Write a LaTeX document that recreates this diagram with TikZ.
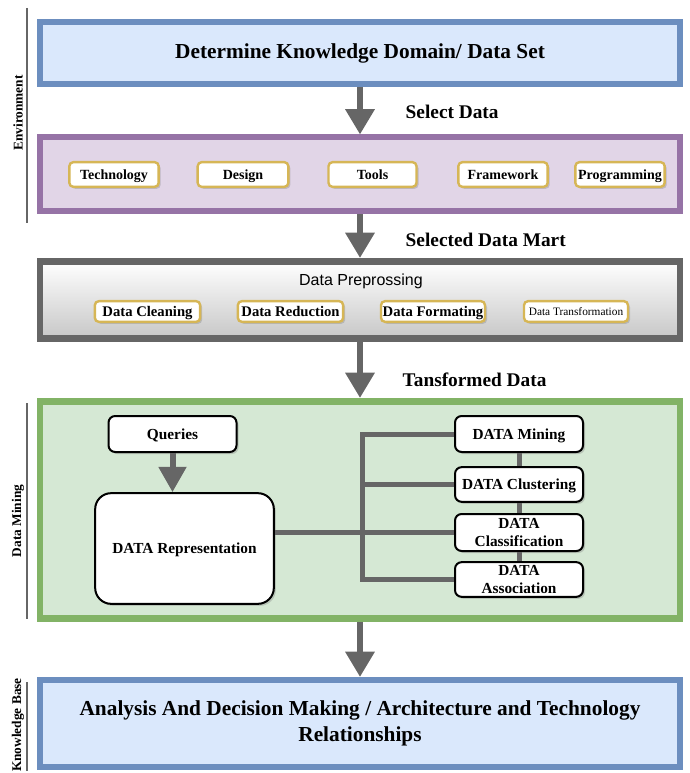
\documentclass[tikz,border=0pt]{standalone}
\usepackage{fontspec}
\setmainfont{Liberation Serif}
\newfontfamily\arialfont{Liberation Sans}
\usetikzlibrary{arrows.meta,shadows}

\definecolor{blueline}{HTML}{6C8EBF}
\definecolor{bluefill}{HTML}{DAE8FC}
\definecolor{purpleline}{HTML}{9673A6}
\definecolor{purplefill}{HTML}{E1D5E7}
\definecolor{greenline}{HTML}{82B366}
\definecolor{greenfill}{HTML}{D5E8D4}
\definecolor{goldline}{HTML}{D6B656}
\definecolor{darkgray}{HTML}{666666}

\tikzset{
  bigbox/.style={draw, line width=4.5pt, minimum width=480pt, inner sep=0pt, align=center,
    drop shadow={shadow xshift=1.2pt, shadow yshift=-1.2pt, opacity=0.25}},
  itembox/.style={draw=goldline, fill=white, line width=1.8pt, rounded corners=3pt, inner sep=0pt,
    text height=8pt, text depth=1pt, font=\bfseries\fontsize{10.5}{12}\selectfont,
    drop shadow={shadow xshift=1.5pt, shadow yshift=-1.5pt, opacity=0.35}},
  dmbox/.style={draw=black, fill=white, line width=1.5pt, rounded corners=5pt, inner sep=0pt,
    minimum width=96pt, align=center, font=\bfseries\fontsize{11.5}{13}\selectfont,
    drop shadow={shadow xshift=1.5pt, shadow yshift=-1.5pt, opacity=0.35}},
  oneline/.style={text height=8.5pt, text depth=1pt},
  flow/.style={draw=darkgray, line width=5pt, -{Triangle[width=21pt,length=19pt]}},
  link/.style={draw=darkgray, line width=3.75pt},
  arrowlabel/.style={anchor=west, font=\bfseries\fontsize{14.5}{17}\selectfont},
  sidelabel/.style={rotate=90, font=\bfseries\fontsize{10}{12}\selectfont},
  sideline/.style={draw=darkgray, line width=1pt},
}

\begin{document}
\begin{tikzpicture}[x=0.75pt, y=-0.75pt]
  \useasboundingbox (0,0) rectangle (689,773);

  % side labels
  \node[sidelabel] (envlabel) at (18,113) {Environment};
  \node[sidelabel] (minelabel) at (18,521) {Data Mining};
  \node[sidelabel] (kblabel) at (18,725) {Knowledge Base};
  \coordinate (env1) at (27,8);
  \coordinate (env2) at (27,223);
  \coordinate (mine1) at (27,403);
  \coordinate (mine2) at (27,619);
  \coordinate (kb1) at (27,682);
  \coordinate (kb2) at (27,771);
  \draw[sideline] (env1) -- (env2);
  \draw[sideline] (mine1) -- (mine2);
  \draw[sideline] (kb1) -- (kb2);

  % main boxes
  \node[bigbox, draw=blueline, fill=bluefill, minimum height=46.5pt,
    font=\bfseries\fontsize{16}{19}\selectfont] (domain) at (360,53) {Determine Knowledge Domain/ Data Set};
  \node[bigbox, draw=purpleline, fill=purplefill, minimum height=55.5pt] (select) at (360,174.5) {};
  \node[bigbox, draw=darkgray, line width=5.2pt, top color=white, bottom color=black!22,
    minimum height=57.75pt] (prep) at (360,300) {};
  \node[bigbox, draw=greenline, fill=greenfill, line width=5.2pt, minimum height=162.75pt] (mining) at (360,510) {};
  \node[bigbox, draw=blueline, fill=bluefill, minimum height=65.25pt,
    font=\bfseries\fontsize{16}{19.5}\selectfont] (analysis) at (360,723.5)
    {Analysis And Decision Making / Architecture and Technology\\Relationships};

  % arrows between stages
  \draw[flow] (domain) -- (select);
  \draw[flow] (select) -- (prep);
  \draw[flow] (prep) -- (mining);
  \draw[flow] (mining) -- (analysis);
  \node[arrowlabel] (lab1) at (401,112) {Select Data};
  \node[arrowlabel] (lab2) at (401,240) {Selected Data Mart};
  \node[arrowlabel] (lab3) at (398,380) {Tansformed Data};

  % selected data
  \node[itembox, minimum width=67pt, minimum height=18.5pt] (tech) at (114,174.5) {Technology};
  \node[itembox, minimum width=68pt, minimum height=18.5pt] (design) at (243,174.5) {Design};
  \node[itembox, minimum width=66pt, minimum height=18.5pt] (tools) at (372.5,174.5) {Tools};
  \node[itembox, minimum width=67pt, minimum height=18.5pt] (frame) at (503,174.5) {Framework};
  \node[itembox, minimum width=67pt, minimum height=18.5pt] (prog) at (620,174.5) {Programming};

  % preprocessing
  \node[font=\arialfont\fontsize{12}{14}\selectfont] (preptitle) at (361,281) {Data Preprossing};
  \node[itembox, minimum width=79pt, minimum height=15.5pt, font=\bfseries\fontsize{11}{13}\selectfont] (clean) at (147.5,311.5) {Data Cleaning};
  \node[itembox, minimum width=79pt, minimum height=15.5pt, font=\bfseries\fontsize{11}{13}\selectfont] (reduce) at (290.5,311.5) {Data Reduction};
  \node[itembox, minimum width=78pt, minimum height=15.5pt, font=\bfseries\fontsize{11}{13}\selectfont] (format) at (433,311.5) {Data Formating};
  \node[itembox, minimum width=78pt, minimum height=15.5pt, text height=6pt, text depth=0.5pt,
    font=\fontsize{8.5}{10}\selectfont] (transform) at (576,311.5) {Data Transformation};

  % data mining
  \node[dmbox, oneline, minimum height=27pt] (queries) at (172.5,434) {Queries};
  \node[dmbox, oneline, minimum width=134pt, minimum height=83pt, rounded corners=12pt] (repr) at (184.5,548.5) {DATA Representation};
  \node[dmbox, oneline, minimum height=27pt] (dmine) at (519,434) {DATA Mining};
  \node[dmbox, oneline, minimum height=26pt] (dclust) at (519,484.5) {DATA Clustering};
  \node[dmbox, minimum height=27.75pt] (dclass) at (519,532.5) {DATA\\Classification};
  \node[dmbox, minimum height=26pt] (dassoc) at (519,579.5) {DATA\\Association};
  \coordinate (bus) at (362,0);

  \draw[flow, line width=4.5pt, -{Triangle[width=20pt,length=19pt]}] (queries) -- (queries |- repr.north);
  \draw[link] (dmine.west) -- (dmine.west -| bus) -- (dassoc.west -| bus) -- (dassoc.west);
  \draw[link] (dclust.west) -- (dclust.west -| bus);
  \draw[link] (dclass.west) -- (dclass.west -| repr.east);
  \draw[link] (dmine) -- (dclust);
  \draw[link] (dclust) -- (dclass);
  \draw[link] (dclass) -- (dassoc);
\end{tikzpicture}
\end{document}
